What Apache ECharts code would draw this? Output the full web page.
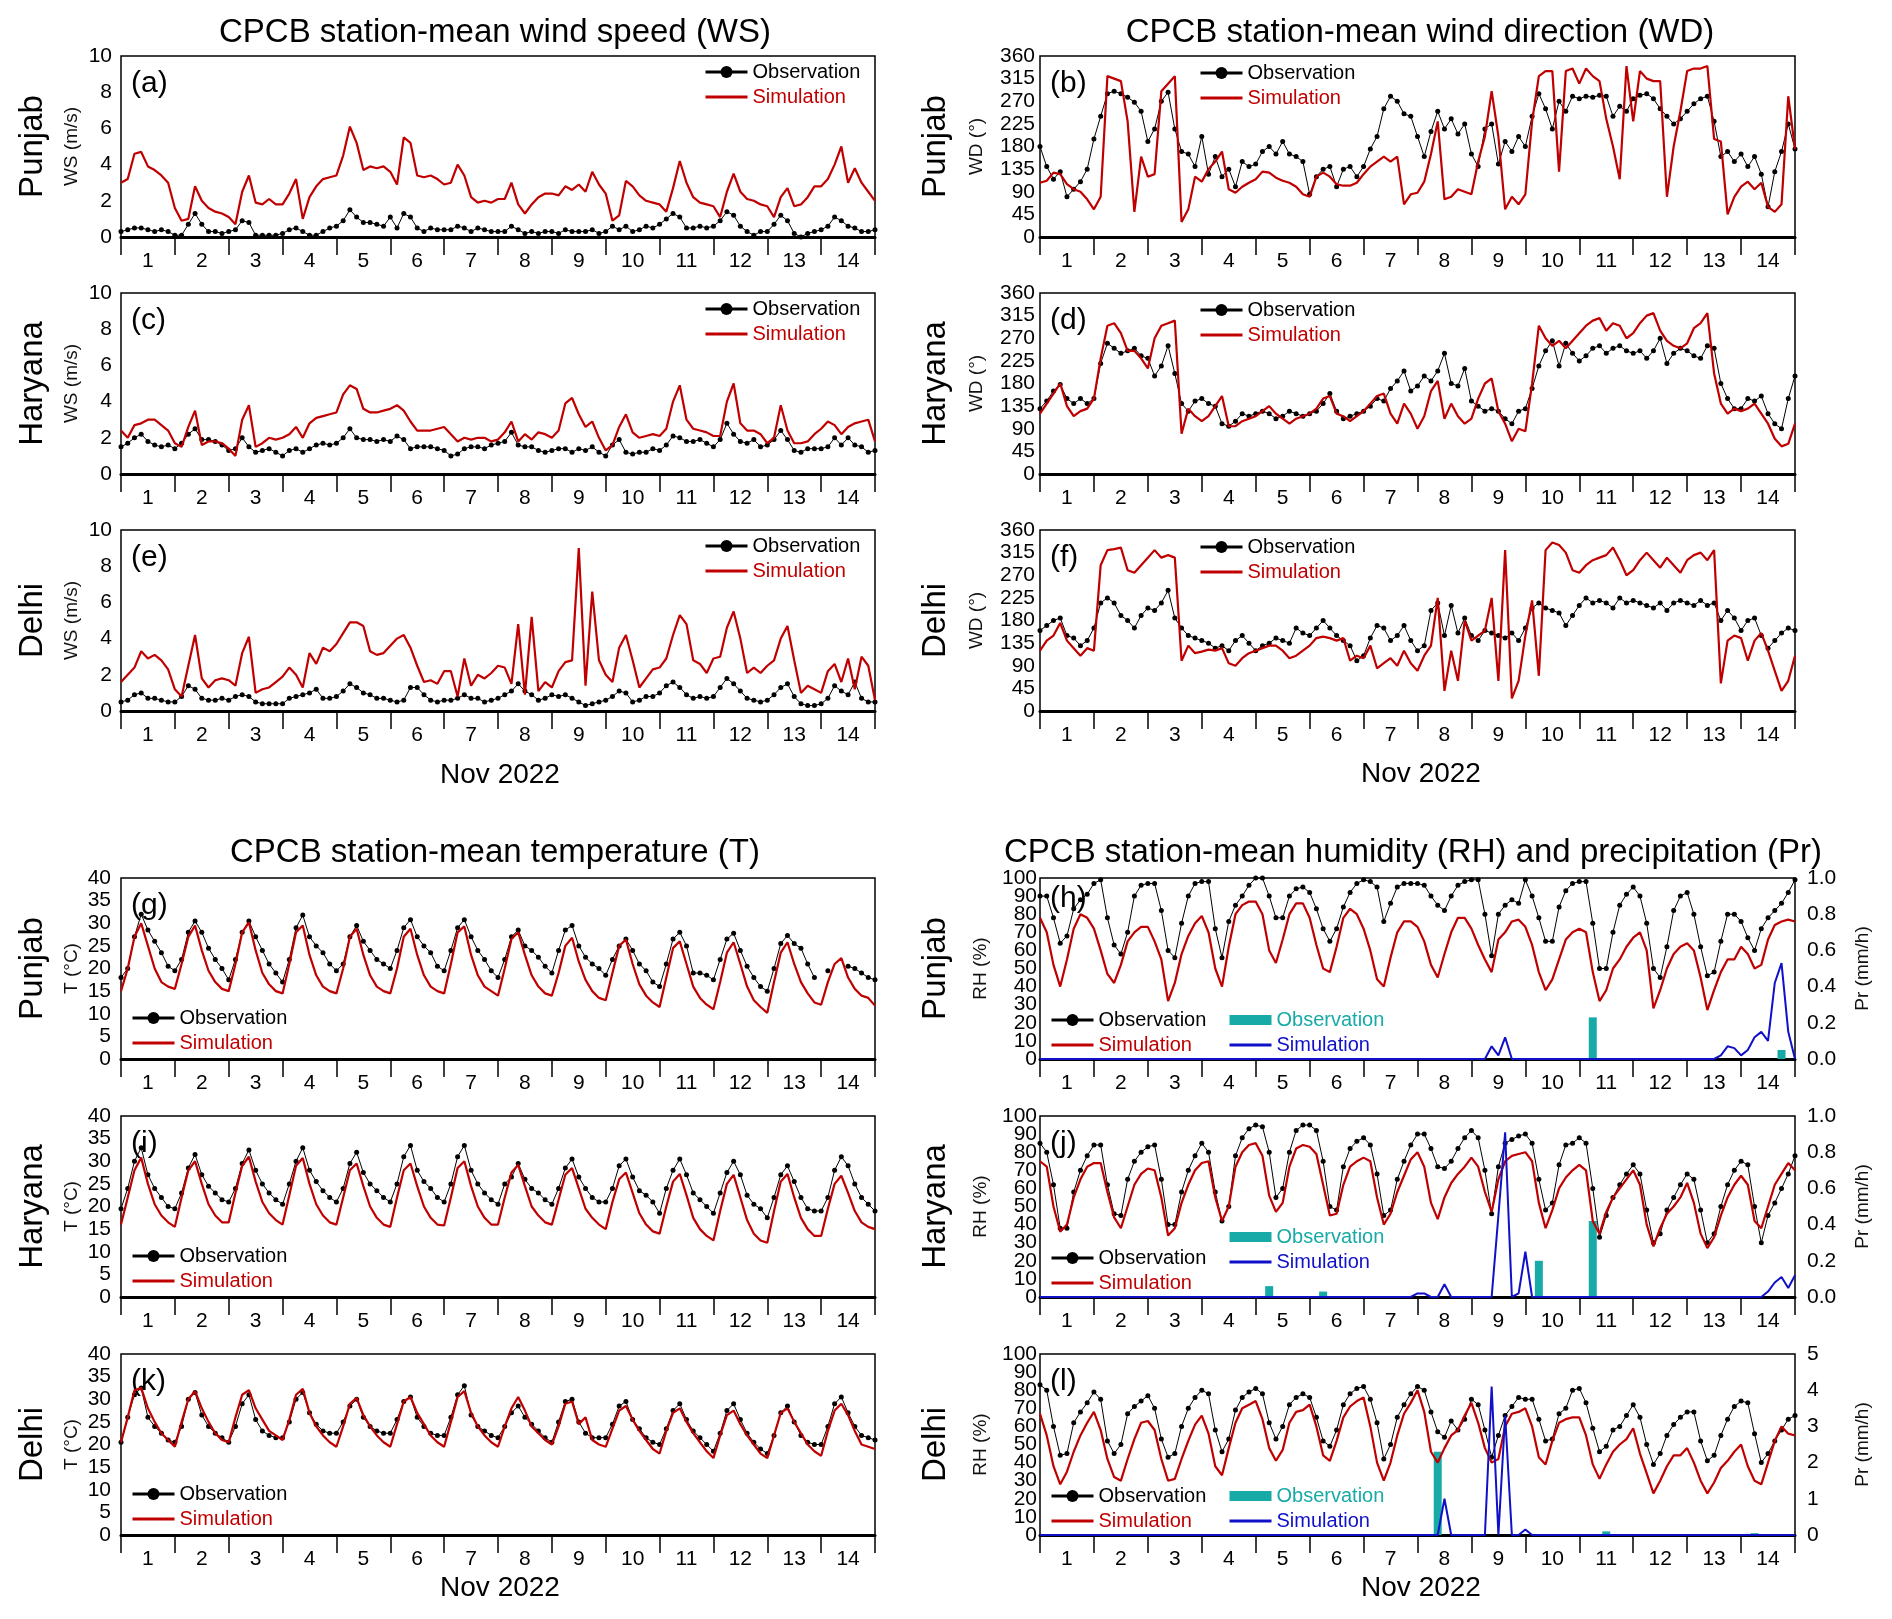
<!DOCTYPE html>
<html>
<head>
<meta charset="utf-8">
<script src="https://cdn.jsdelivr.net/npm/echarts@6/dist/echarts.min.js"></script>
<style>
html,body{margin:0;padding:0;background:#fff}
#main{width:1892px;height:1619px}
</style>
</head>
<body>
<div id="main"></div>
<script>
// 3-hourly values, Nov 1 00h .. Nov 15 00h (8 per day + closing point)
var wsPunjabObs = [
  0.3,0.4,0.5,0.5,0.4,0.3,0.4,0.3, 0.1,0.1,0.7,1.3,0.7,0.3,0.3,0.2, 0.3,0.4,0.9,0.8,0.1,0.1,0.1,0.1,
  0.2,0.4,0.5,0.3,0.1,0.1,0.3,0.5, 0.6,0.9,1.5,1.1,0.8,0.8,0.7,0.6, 1.1,0.5,1.3,1.1,0.5,0.3,0.5,0.4,
  0.4,0.4,0.6,0.5,0.3,0.5,0.4,0.3, 0.3,0.3,0.6,0.4,0.2,0.3,0.2,0.3, 0.3,0.2,0.4,0.3,0.3,0.3,0.4,0.2,
  0.3,0.6,0.4,0.6,0.3,0.4,0.6,0.5, 0.7,1.0,1.3,1.1,0.5,0.5,0.6,0.5, 0.6,0.9,1.4,1.2,0.6,0.3,0.1,0.3,
  0.3,0.7,1.2,0.9,0.2,0.0,0.2,0.3, 0.4,0.6,1.1,0.9,0.6,0.5,0.3,0.3, 0.4];
var wsPunjabSim = [
  3.0,3.2,4.6,4.7,3.9,3.7,3.4,3.0, 1.6,0.9,1.0,2.8,2.0,1.6,1.4,1.3, 1.1,0.7,2.5,3.4,1.9,1.8,2.1,1.8,
  1.8,2.4,3.2,1.0,2.2,2.8,3.2,3.3, 3.4,4.5,6.1,5.2,3.7,3.9,3.8,3.9, 3.6,2.9,5.5,5.2,3.4,3.3,3.4,3.2,
  2.9,3.0,4.0,3.4,2.2,1.9,2.0,1.9, 2.1,2.1,3.0,1.8,1.3,1.8,2.2,2.4, 2.4,2.3,2.8,2.6,2.9,2.5,3.6,2.9,
  2.4,0.9,1.2,3.1,2.8,2.3,2.0,1.9, 1.8,1.4,2.7,4.2,3.0,2.2,1.9,1.8, 1.7,1.1,2.5,3.5,2.5,2.1,2.0,1.8,
  1.7,1.1,2.2,2.7,1.7,1.8,2.2,2.8, 2.8,3.2,4.0,5.0,3.0,3.8,3.0,2.5, 2.0];
var wsHaryanaObs = [
  1.5,1.7,2.0,2.2,1.8,1.6,1.5,1.6, 1.4,1.7,2.2,2.5,1.9,1.9,1.8,1.6, 1.3,1.4,2.0,1.5,1.2,1.3,1.4,1.2,
  1.0,1.3,1.4,1.2,1.4,1.6,1.7,1.6, 1.7,2.0,2.5,2.0,1.9,1.9,1.8,1.9, 1.8,2.1,1.9,1.4,1.5,1.5,1.5,1.4,
  1.3,1.0,1.1,1.4,1.5,1.5,1.4,1.6, 1.7,1.8,2.3,1.6,1.5,1.5,1.3,1.2, 1.3,1.4,1.4,1.2,1.4,1.3,1.5,1.2,
  1.0,1.6,1.9,1.2,1.1,1.2,1.2,1.4, 1.3,1.6,2.1,2.0,1.8,1.8,1.9,1.7, 1.5,1.9,2.8,2.2,1.8,1.7,1.9,1.5,
  1.6,1.9,2.4,1.9,1.3,1.2,1.4,1.4, 1.4,1.5,2.0,1.6,2.0,1.6,1.5,1.2, 1.3];
var wsHaryanaSim = [
  2.4,2.0,2.7,2.8,3.0,3.0,2.7,2.4, 1.7,1.5,2.6,3.5,1.6,1.8,1.8,1.7, 1.4,1.0,3.0,3.8,1.5,1.7,2.0,1.9,
  2.0,2.2,2.6,2.0,2.8,3.1,3.2,3.3, 3.4,4.4,4.9,4.7,3.6,3.4,3.4,3.5, 3.6,3.8,3.5,2.9,2.4,2.4,2.4,2.5,
  2.6,2.2,1.8,2.0,1.9,2.0,2.0,1.8, 1.9,2.3,2.9,1.8,2.2,1.9,2.3,2.2, 2.0,2.4,3.9,4.2,3.3,2.6,2.9,2.0,
  1.3,1.6,2.6,3.3,2.3,2.0,2.1,2.2, 2.1,2.5,4.0,4.9,3.0,2.5,2.4,2.3, 2.1,2.1,4.0,5.0,2.8,2.4,2.4,2.2,
  1.7,2.0,3.8,2.4,1.7,1.7,1.8,2.2, 2.5,2.9,2.7,2.2,2.6,2.8,2.9,3.0, 1.8];
var wsDelhiObs = [
  0.5,0.6,0.9,1.0,0.7,0.7,0.6,0.5, 0.5,0.8,1.4,1.2,0.7,0.6,0.6,0.7, 0.6,0.8,0.9,0.8,0.5,0.4,0.4,0.4,
  0.4,0.7,0.8,0.9,1.0,1.2,0.7,0.7, 0.8,1.1,1.5,1.3,1.0,0.9,0.7,0.7, 0.6,0.5,0.6,1.3,1.3,0.9,0.6,0.5,
  0.6,0.6,0.7,0.9,0.7,0.7,0.5,0.6, 0.7,0.9,1.1,1.5,1.1,0.9,0.6,0.7, 0.9,0.8,0.9,0.7,0.5,0.3,0.4,0.5,
  0.6,0.8,1.1,1.0,0.5,0.6,0.8,0.8, 1.0,1.4,1.6,1.3,0.9,0.7,0.8,0.7, 0.8,1.3,1.8,1.5,1.1,0.7,0.6,0.5,
  0.6,0.9,1.3,1.5,0.8,0.4,0.3,0.3, 0.4,0.7,1.4,1.1,0.9,1.6,0.7,0.5, 0.5];
var wsDelhiSim = [
  1.6,2.0,2.4,3.3,2.9,3.1,2.8,2.3, 1.2,0.8,2.5,4.2,1.8,1.3,1.7,1.8, 1.7,1.4,3.2,4.1,1.0,1.2,1.3,1.6,
  1.9,2.4,2.0,1.3,3.2,2.6,3.5,3.3, 3.7,4.3,4.9,4.9,4.7,3.3,3.1,3.2, 3.6,4.0,4.2,3.5,2.5,1.6,1.7,1.5,
  2.2,2.2,0.8,2.9,1.4,2.0,1.8,2.1, 2.5,2.4,1.5,4.8,0.9,5.2,1.1,1.6, 1.3,2.2,2.7,2.8,9.0,1.4,6.6,2.8,
  2.0,1.6,3.5,4.2,2.8,1.3,1.8,2.3, 2.4,2.9,4.2,5.3,4.8,2.8,2.6,2.1, 2.9,3.0,4.6,5.5,4.0,2.1,2.4,2.1,
  2.5,2.8,4.0,4.7,2.8,1.0,1.4,1.2, 1.0,2.2,2.6,1.6,2.9,1.2,3.0,2.5, 0.6];

var wdPunjabObs = [
  180,140,115,130,80,95,110,135, 195,240,285,290,285,278,268,250, 190,215,270,288,215,170,165,140,
  200,125,160,120,135,100,150,140, 145,170,180,165,190,165,160,150, 85,120,135,140,100,135,140,120,
  140,175,200,255,280,270,245,240, 200,160,210,250,215,235,205,225, 165,140,215,225,145,190,170,200,
  180,240,285,255,215,270,250,280, 275,280,278,282,280,240,260,250, 275,282,285,275,255,240,225,235,
  250,265,275,280,230,160,170,150, 165,140,160,125,60,130,170,225, 175];
var wdPunjabSim = [
  108,112,128,125,105,95,90,75, 55,80,320,315,310,230,50,160, 120,125,290,305,320,30,55,120,
  110,135,150,170,95,88,100,108, 115,130,128,118,112,108,100,85, 80,120,128,120,105,102,102,108,
  125,140,150,160,150,160,65,85, 88,110,165,230,75,80,95,90, 85,150,200,290,200,55,80,65,
  85,230,320,330,330,130,330,335, 305,335,320,310,235,180,115,340, 230,330,315,310,310,80,180,250,
  330,335,335,340,195,190,45,80, 100,110,95,108,60,50,65,280, 175];
var wdHaryanaObs = [
  130,145,165,178,150,140,150,140, 150,220,260,250,240,245,250,235, 230,195,215,255,200,140,125,145,
  150,140,135,100,95,105,120,115, 120,125,120,110,115,125,120,115, 120,125,140,160,125,110,115,120,
  125,135,150,145,170,185,205,165, 175,195,185,205,240,180,175,210, 145,135,125,130,125,110,100,125,
  130,170,215,245,265,215,260,240, 225,235,250,255,240,250,255,245, 240,245,230,245,270,220,240,250,
  245,235,230,255,250,180,150,130, 130,150,145,155,120,100,90,150, 195];
var wdHaryanaSim = [
  120,140,160,180,135,115,125,130, 150,230,295,300,280,245,245,230, 210,270,295,300,305,80,130,115,
  105,115,135,155,95,95,105,110, 115,125,135,120,110,100,110,115, 120,130,150,155,120,115,105,115,
  125,140,155,160,120,100,140,120, 90,115,165,185,110,140,115,100, 110,150,180,190,125,100,65,90,
  85,180,295,270,255,265,250,265, 280,295,305,310,285,300,295,270, 280,300,315,320,285,265,255,250,
  260,290,300,320,200,140,120,130, 125,130,140,120,100,70,55,60, 100];
var wdDelhiObs = [
  160,170,180,185,150,145,130,140, 165,215,225,215,190,180,165,190, 205,200,215,240,185,165,150,145,
  140,135,125,130,120,140,150,135, 120,130,135,145,140,135,165,155, 150,165,180,165,150,140,130,100,
  110,145,170,165,140,150,170,140, 120,130,200,215,150,210,155,185, 150,140,160,155,150,145,155,140,
  165,205,215,205,200,195,170,190, 210,225,215,220,215,205,225,215, 220,215,210,205,215,200,215,220,
  215,210,220,210,215,180,200,185, 160,180,185,150,125,140,155,165, 160];
var wdDelhiSim = [
  120,140,150,175,140,125,110,125, 120,290,320,322,325,280,275,290, 305,320,305,310,305,100,130,115,
  118,122,120,125,95,90,105,115, 120,125,130,130,120,105,110,120, 130,145,148,145,140,145,100,110,
  105,130,85,95,105,90,120,95, 80,110,130,225,40,120,60,180, 140,150,160,225,60,320,25,60,
  150,220,70,320,335,330,315,280, 275,290,300,305,310,325,300,270, 280,300,315,300,285,305,290,275,
  300,310,315,300,320,55,140,150, 145,100,140,155,120,80,40,60, 110];

var tPunjabObs = [
  18,20,27,32,28.5,26,23.5,20.5, 19.5,22,28,30.5,28,24.5,22,20, 17.5,22,28,30.5,27,24,21,19,
  17,22,29,31.8,27,25,23.5,21, 19.5,21,27,29.5,26,24,22,21, 20,24,29,30.8,27,25,23.5,20.5,
  19.5,24,29,30.8,27,24,22,19.5, 18,22,27,28.5,25,24,22.5,20.5, 19,24,28.5,29.5,25,22.5,21,20,
  18.5,22,25,26.5,24,21,19.5,17, 16,21,26.5,28,25,19,19,18.5, 17.5,22,26.5,27.8,24,20.5,18,16,
  15,20,25.5,27.3,25.5,24.5,21,18, null,19.5,null,null,20.5,20,19,18, 17.5];
var tPunjabSim = [
  15,20,27,30,25,20,17,16, 15.5,21,27,29.5,24,19.5,17,15.5, 15,21,28,30.2,24,19,16.5,15,
  14.5,21,28,29.5,23,18.5,16,15, 14.5,20,27,28.8,23,18.5,16,15, 14.5,20,27,28.8,23,18.5,16,15,
  14.5,21,28,29.3,23,18.5,16,15, 14,20,26.5,28,23,18.5,16,14.5, 14,19,25,26.8,21.5,17.5,15,13.5,
  13,19,25,26.4,21,16.5,14,12.5, 11.5,18,24.5,26,21,16,13.5,12, 11,17,23.5,25.8,21,16,13,11.5,
  10.2,17,23.5,25.8,21,17,14.5,12.5, 12,17,21,22.3,18,15.5,14,13.5, 11.8];
var tHaryanaObs = [
  19.5,24,30,33,27,24,22,20, 19.5,23,28.5,31.5,27,24.5,23,21.5, 21,24,29.5,32.5,28,25,23,21.5,
  20.5,25,30,33,28,25.5,23.5,22, 21,24,29.5,32,27.5,25,23.5,22, 21,25,31,33.5,28,25.5,24,22,
  21,25,31,33.5,28,25,23,21.5, 20.5,25,26.5,29.5,26,24,23,21.5, 20.5,24,28.5,30.5,26.5,24,22,21,
  21,24,29,30.5,26.5,23.5,22.5,21, 18.5,24,28,30.5,27,23,21.5,20, 18.5,23,27.5,30,27,22.5,20.5,19.5,
  17.5,22,27,29,25.5,22,19.5,19, 19,22,28,31,29,25,22,20.5, 19];
var tHaryanaSim = [
  16,22,28,30.8,25,20.5,18,16.5, 15.5,22,28,30,25,20.5,18,16.5, 16.5,23,29,31,25.5,21,18.5,17,
  16,22.5,29,30.7,25,20.5,18,16.5, 16,22,28,29.5,24.5,20,17.5,16, 15.5,22,28,29.5,24.5,20,17.5,16,
  15.8,22,28.5,30,24.5,20,17.5,16, 16,22,27.5,29.2,24.5,20,18,16.5, 16,21.5,27,28.5,24,19.5,17.5,16,
  15,21,26,27.5,23,18.5,16,14.5, 14,20,25.5,27.2,22.5,17.5,15,13.5, 12.5,19,25,27,22,17,14,12.5,
  12,19,25.5,27.2,22,17.5,15,13.5, 13.5,19.5,25,26.8,23,19,16.5,15.5, 15];
var tDelhiObs = [
  20.5,26,31,32.5,26,24,22.5,21, 20.5,24,30,31.5,26.5,24,22.5,21.5, 20.5,24,29,31,25.5,23,22,21.5,
  21.5,25,30,31.5,27,24.5,23,22.5, 22.5,25,28.5,30,26,24,23,22.5, 22.5,25.5,29.5,30.5,26,24,22.5,22,
  22,26,31,33,26.5,24,23,22, 21.5,24,27,28.5,26,24.5,23,21.5, 20.5,25,29.5,30,25,22.5,21.5,21.5,
  21.5,24.5,28.5,29.5,25.5,23.5,21.5,20.5, 20,23.5,27.5,29,25.5,23,21.5,20, 18.5,22.5,27.5,29,25.5,22.5,20.5,19,
  18,22,27,28.5,25,22,20.5,20, 20,24,29,30.5,27,24,22,21.5, 21];
var tDelhiSim = [
  20.5,26,32,32.5,28,25,22.5,21, 19.5,25,30,31.8,28,25,22.5,21, 20.5,26,31,32,28,25.5,23,22,
  21,25.5,31,32.3,27,24,22,20.5, 19.5,24,29,30.3,26.5,24,22,20.5, 19.5,24.5,29.5,30.5,27,24.5,22,20.5,
  19.5,25,30.5,31.8,27,24,22,20.5, 19.5,24,28,30.5,27.5,24,22.5,21, 20,24,29,29.5,24.5,26,21,20,
  19.5,23.5,27.5,28.5,25.5,23,21,19, 18,23,27,28,25,22.5,20.5,18.5, 17,22,26.5,27.5,24.5,22,20,18,
  17,22,27,28,25,22.5,20,18.5, 17.5,23,27.5,29,26.5,23,20,19.5, 19];

var rhPunjabObs = [
  90,90,78,64,68,83,88,91, 97,99,78,63,58,70,90,96, 97,97,82,60,56,75,90,97,
  98,98,72,56,76,85,90,96, 100,100,90,78,78,90,94,95, 92,83,72,65,72,84,92,97,
  99,98,95,76,86,95,97,97, 97,96,90,85,82,90,96,98, 99,99,80,57,80,85,88,86,
  99,90,78,65,65,84,93,97, 98,98,75,50,50,70,85,91, 95,90,75,50,45,62,82,90,
  92,80,62,46,48,65,80,80, 76,67,60,72,78,82,86,92, 99];
var rhPunjabSim = [
  78,70,52,40,55,72,80,78, 72,60,47,42,52,65,70,73, 73,65,55,32,42,58,68,75,
  79,70,50,40,62,80,85,87, 87,80,60,53,66,80,86,86, 78,63,50,48,62,78,83,80,
  72,60,44,40,56,70,76,76, 73,65,52,45,58,70,78,78, 72,63,55,48,66,70,76,77,
  73,63,48,38,44,55,66,70, 72,70,48,32,38,50,55,62, 67,70,60,28,38,50,58,62,
  64,60,45,27,38,48,55,55, 62,58,50,52,66,74,76,77, 76];
var rhHaryanaObs = [
  85,80,62,38,38,58,70,78, 84,84,62,46,45,65,75,80, 83,84,65,40,40,58,70,78,
  85,80,58,42,50,78,88,93, 95,94,80,55,60,80,92,95, 95,92,75,50,48,72,82,86,
  88,84,68,45,48,65,75,84, 90,90,82,72,71,75,82,88, 92,88,70,46,72,85,87,89,
  90,85,65,48,52,73,84,85, 88,85,60,33,45,55,62,68, 73,68,48,30,35,48,55,62,
  68,65,48,30,35,50,62,70, 75,73,50,30,45,52,60,68, 78];
var rhHaryanaSim = [
  75,72,50,36,40,55,65,72, 74,74,58,44,38,50,62,68, 71,70,55,34,38,52,62,70,
  74,75,55,42,50,72,80,84, 85,78,56,47,52,72,82,84, 83,79,62,45,46,62,72,75,
  77,75,55,40,46,58,67,76, 80,72,52,43,55,63,68,72, 77,72,58,47,65,75,78,79,
  80,75,52,38,48,60,66,70, 73,70,42,35,47,55,60,65, 70,62,40,28,38,46,50,55,
  63,52,35,27,33,45,55,62, 67,62,42,38,50,62,68,74, 70];
var rhDelhiObs = [
  83,80,60,44,45,62,68,73, 79,75,52,45,50,67,71,74, 77,70,53,43,45,60,70,76,
  80,78,58,46,53,69,76,79, 81,78,62,53,60,72,76,78, 76,65,52,49,58,72,78,81,
  82,75,62,42,50,65,72,78, 82,80,68,57,54,63,58,64, 75,72,58,43,55,66,71,76,
  75,75,64,52,53,67,70,80, 81,73,59,46,49,58,60,66, 72,65,50,39,45,55,61,65,
  68,68,52,41,44,55,64,71, 74,73,56,40,45,52,58,64, 66];
var rhDelhiSim = [
  67,55,38,28,35,46,55,62, 68,58,42,32,30,42,53,62, 63,58,42,30,31,42,52,61,
  66,56,38,33,48,62,70,72, 74,64,48,41,47,62,68,69, 72,60,44,41,52,65,71,74,
  76,60,40,30,40,55,67,73, 80,68,46,40,48,55,58,66, 73,62,48,40,42,60,67,68,
  70,60,43,39,52,62,64,65, 65,55,39,31,39,46,50,53, 59,45,34,23,30,38,44,44,
  48,40,30,23,29,37,41,46, 50,38,30,28,40,52,60,56, 55];

// precipitation: [3-hour step index, mm/h], zero elsewhere
var prPunjabObs = [[82,0.23],[110,0.05]];
var prPunjabSim = [[67,0.07],[68,0.02],[69,0.12],[101,0.02],[102,0.07],[103,0.06],[104,0.02],[105,0.05],
  [106,0.12],[107,0.15],[108,0.1],[109,0.42],[110,0.53],[111,0.15]];
var prHaryanaObs = [[34,0.06],[42,0.03],[74,0.2],[82,0.42]];
var prHaryanaSim = [[56,0.02],[57,0.02],[60,0.07],[68,0.45],[69,0.91],[71,0.02],[72,0.25],
  [108,0.03],[109,0.08],[110,0.11],[111,0.05],[112,0.12]];
var prDelhiObs = [[59,2.3],[84,0.1],[106,0.05]];
var prDelhiSim = [[60,1.0],[67,4.1],[69,3.3],[72,0.15]];

// RH tick labels (dense, so shown on a label-only axis)
var rhTicks = ['0','10','20','30','40','50','60','70','80','90','100'];

var hours = [];
for (var h = 0; h <= 336; h += 3) hours.push(h);

var FONT = 'Liberation Sans';
var RED = '#c00000', TEAL = '#17aaa6', BLUE = '#1010c8';
var GRID_TOP = [56, 293, 530, 878, 1116, 1354];
var GRID_LEFT = [121, 1040];
var GRID_W = [754, 755];
var GRID_H = 181;
var ROWS = ['Punjab', 'Haryana', 'Delhi'];

var KIND = {
  ws: {min: 0, max: 10, step: 2, name: 'WS (m/s)', gap: 40, margin: 9},
  wd: {min: 0, max: 360, step: 45, name: 'WD (°)', gap: 54, margin: 5},
  t: {min: 0, max: 40, step: 5, name: 'T (°C)', gap: 40, margin: 10},
  rh: {min: 0, max: 100, step: 10, name: 'RH (%)', gap: 50, margin: 3}
};

var PANELS = [
  {tag: '(a)', row: 0, col: 0, kind: 'ws', obs: wsPunjabObs, sim: wsPunjabSim},
  {tag: '(c)', row: 1, col: 0, kind: 'ws', obs: wsHaryanaObs, sim: wsHaryanaSim},
  {tag: '(e)', row: 2, col: 0, kind: 'ws', obs: wsDelhiObs, sim: wsDelhiSim},
  {tag: '(b)', row: 0, col: 1, kind: 'wd', obs: wdPunjabObs, sim: wdPunjabSim},
  {tag: '(d)', row: 1, col: 1, kind: 'wd', obs: wdHaryanaObs, sim: wdHaryanaSim},
  {tag: '(f)', row: 2, col: 1, kind: 'wd', obs: wdDelhiObs, sim: wdDelhiSim},
  {tag: '(g)', row: 3, col: 0, kind: 't', obs: tPunjabObs, sim: tPunjabSim},
  {tag: '(i)', row: 4, col: 0, kind: 't', obs: tHaryanaObs, sim: tHaryanaSim},
  {tag: '(k)', row: 5, col: 0, kind: 't', obs: tDelhiObs, sim: tDelhiSim},
  {tag: '(h)', row: 3, col: 1, kind: 'rh', obs: rhPunjabObs, sim: rhPunjabSim, prObs: prPunjabObs, prSim: prPunjabSim, prMax: 1, prStep: 0.2, tagUp: 7},
  {tag: '(j)', row: 4, col: 1, kind: 'rh', obs: rhHaryanaObs, sim: rhHaryanaSim, prObs: prHaryanaObs, prSim: prHaryanaSim, prMax: 1, prStep: 0.2, leg2Up: 21},
  {tag: '(l)', row: 5, col: 1, kind: 'rh', obs: rhDelhiObs, sim: rhDelhiSim, prObs: prDelhiObs, prSim: prDelhiSim, prMax: 5, prStep: 1}
];

var grid = [], xAxis = [], yAxis = [], series = [], legend = [], graphic = [];

function txt(x, y, s, size, rot, color, align) {
  graphic.push({type: 'text', x: x, y: y, rotation: rot || 0, silent: true,
    style: {text: s, fontSize: size, fontFamily: FONT, fill: color || '#000',
      textAlign: align || 'center', textVerticalAlign: 'middle', align: align || 'center', verticalAlign: 'middle'}});
}

function legendBox(left, top, items, itemH) {
  legend.push({selectedMode: false, orient: 'vertical', left: left, top: top,
    itemWidth: 42, itemHeight: itemH, itemGap: 5, padding: 0,
    textStyle: {fontSize: 20, fontFamily: FONT}, data: items});
}

var NO_DOT = {color: 'rgba(0,0,0,0)', borderColor: 'rgba(0,0,0,0)', borderWidth: 0};

PANELS.forEach(function (p, i) {
  var top = GRID_TOP[p.row], left = GRID_LEFT[p.col], k = KIND[p.kind];
  var isRH = p.kind === 'rh';
  grid.push({left: left, top: top, width: GRID_W[p.col], height: GRID_H,
    show: true, borderColor: '#000', borderWidth: 1.5, backgroundColor: 'transparent'});
  xAxis.push({type: 'category', gridIndex: i, data: hours, boundaryGap: false,
    axisLine: {lineStyle: {color: '#000', width: 3}},
    axisTick: {interval: function (n) { return n % 8 === 0; }, length: 18, lineStyle: {color: '#000', width: 1.5}},
    axisLabel: {interval: function (n) { return n % 8 === 4; },
      formatter: function (v, n) { return String((n - 4) / 8 + 1); },
      margin: 14, fontSize: 21, fontFamily: FONT, color: '#000'},
    splitLine: {show: false}});
  var yi = yAxis.length;
  yAxis.push({type: 'value', gridIndex: i, position: 'left', min: k.min, max: k.max, interval: k.step,
    axisLine: {show: false}, axisTick: {show: false}, splitLine: {show: false},
    axisLabel: {show: !isRH, margin: k.margin, fontSize: 21, fontFamily: FONT, color: '#000',
      showMinLabel: true, showMaxLabel: true},
    name: k.name, nameLocation: 'middle', nameGap: k.gap, nameRotate: 90,
    nameTextStyle: {fontSize: 19, fontFamily: FONT, color: '#111'}});

  if (isRH) {
    yAxis.push({type: 'category', gridIndex: i, position: 'left', data: rhTicks, boundaryGap: false,
      axisLine: {show: false}, axisTick: {show: false}, splitLine: {show: false},
      axisLabel: {interval: 0, margin: k.margin, fontSize: 21, fontFamily: FONT, color: '#000'}});
    var pi = yAxis.length;
    yAxis.push({type: 'value', gridIndex: i, position: 'right', min: 0, max: p.prMax, interval: p.prStep,
      axisLine: {show: false}, axisTick: {show: false}, splitLine: {show: false},
      axisLabel: {margin: 12, fontSize: 21, fontFamily: FONT, color: '#000', showMinLabel: true, showMaxLabel: true,
        formatter: function (v) { return p.prMax > 1 ? String(v) : v.toFixed(1); }},
      name: 'Pr (mm/h)', nameLocation: 'middle', nameGap: 58, nameRotate: 90,
      nameTextStyle: {fontSize: 19, fontFamily: FONT, color: '#111'}});
    series.push({type: 'bar', name: 'Observation ', xAxisIndex: i, yAxisIndex: pi,
      data: p.prObs, barWidth: 8, itemStyle: {color: TEAL}, z: 2});
    var prLine = hours.map(function () { return 0; });
    p.prSim.forEach(function (d) { prLine[d[0]] = d[1]; });
    series.push({type: 'line', name: 'Simulation ', xAxisIndex: i, yAxisIndex: pi,
      data: prLine, symbol: 'none', lineStyle: {color: BLUE, width: 2}, itemStyle: {color: BLUE}, z: 6});
  }

  series.push({type: 'line', name: 'Observation', xAxisIndex: i, yAxisIndex: yi, data: p.obs,
    symbol: 'circle', symbolSize: 5, showSymbol: true, showAllSymbol: true, itemStyle: {color: '#000'},
    lineStyle: {color: '#000', width: 1}, z: 3});
  series.push({type: 'line', name: 'Simulation', xAxisIndex: i, yAxisIndex: yi, data: p.sim,
    symbol: 'none', lineStyle: {color: RED, width: 2.2}, itemStyle: {color: RED}, z: 4});

  var mainItems = [
    {name: 'Observation', lineStyle: {width: 3}, textStyle: {color: '#000'}},
    {name: 'Simulation', lineStyle: {width: 3}, itemStyle: NO_DOT, textStyle: {color: RED}}
  ];
  if (p.kind === 'ws') legendBox(704, top + 6, mainItems, 15);
  if (p.kind === 'wd') legendBox(1199, top + 7, mainItems, 15);
  if (p.kind === 't') legendBox(131, top + 130, mainItems, 15);
  if (isRH) {
    legendBox(1050, top + 132, mainItems, 15);
    legendBox(1228, top + 132 - (p.leg2Up || 0), [
      {name: 'Observation ', icon: 'rect', textStyle: {color: TEAL}},
      {name: 'Simulation ', lineStyle: {width: 3}, itemStyle: NO_DOT, textStyle: {color: BLUE}}
    ], 10);
  }

  txt(p.col === 0 ? 33 : 936, top + GRID_H / 2, ROWS[p.row % 3], 33, Math.PI / 2);
  txt(left + 10, top + 28 - (p.tagUp || 0), p.tag, 30, 0, '#000', 'left');
});

txt(495, 33, 'CPCB station-mean wind speed (WS)', 33);
txt(1420, 33, 'CPCB station-mean wind direction (WD)', 33);
txt(495, 853, 'CPCB station-mean temperature (T)', 33);
txt(1413, 853, 'CPCB station-mean humidity (RH) and precipitation (Pr)', 33);
txt(500, 775, 'Nov 2022', 28);
txt(1421, 774, 'Nov 2022', 28);
txt(500, 1588, 'Nov 2022', 28);
txt(1421, 1588, 'Nov 2022', 28);

var chart = echarts.init(document.getElementById('main'));
chart.setOption({
  animation: false,
  backgroundColor: '#fff',
  textStyle: {fontFamily: FONT},
  grid: grid, xAxis: xAxis, yAxis: yAxis, series: series, legend: legend, graphic: graphic
});
</script>
</body>
</html>
